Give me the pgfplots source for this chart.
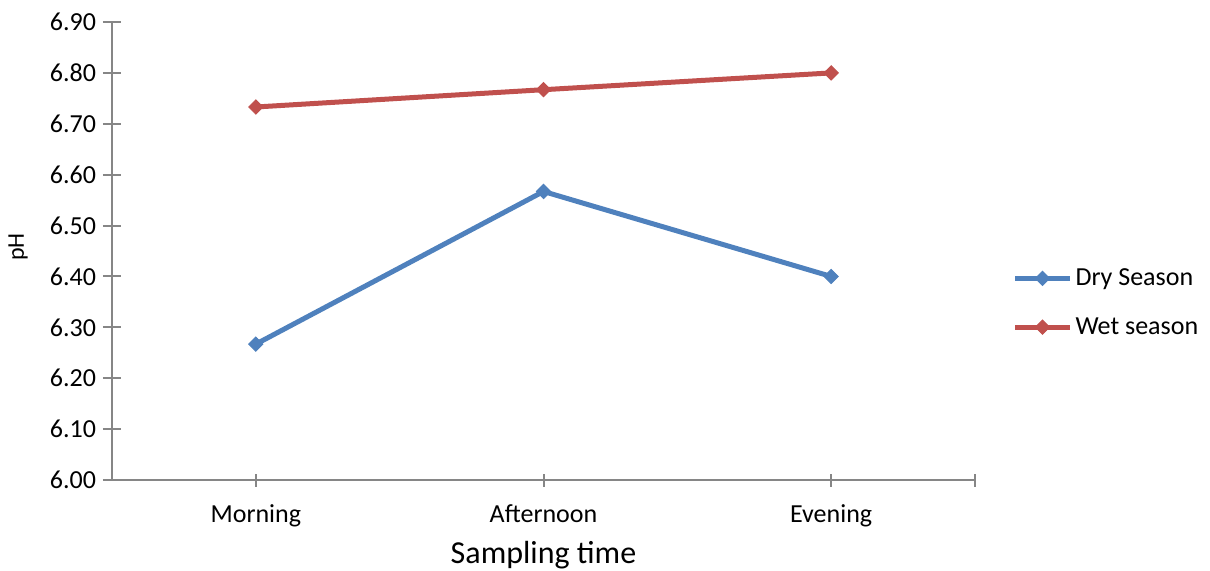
\documentclass[border=0pt]{standalone}
\usepackage{fontspec}
\setmainfont{Carlito}
\usepackage{pgfplots}
\pgfplotsset{compat=1.18}
\definecolor{dryblue}{HTML}{4F81BD}
\definecolor{wetred}{HTML}{C0504D}
\definecolor{axgray}{RGB}{134,134,134}
\begin{document}
\begin{tikzpicture}
\begin{axis}[
  name=ax,
  scale only axis,
  width=431.5bp, height=229bp,
  xmin=-0.5, xmax=2.5,
  ymin=6.0, ymax=6.9,
  axis lines*=left,
  axis line style={draw=axgray, line width=1bp},
  xtick={0,1,2,2.5},
  xticklabels={Morning,Afternoon,Evening,},
  ytick={6.0,6.1,6.2,6.3,6.4,6.5,6.6,6.7,6.8,6.9},
  yticklabel style={/pgf/number format/.cd, fixed, fixed zerofill, precision=2, assume math mode=true},
  tick align=center,
  tick style={draw=axgray, line width=1bp},
  major tick length=9bp,
  xtick style={/pgfplots/major tick length=6.5bp},
  ticklabel style={font=\fontsize{13bp}{15bp}\selectfont, text=black},
  xticklabel style={yshift=-4.5bp},
  xlabel={Sampling time},
  ylabel={pH},
  every axis x label/.style={at={(axis description cs:0.5,0)}, yshift=-37.5bp, anchor=center, font=\fontsize{16bp}{19bp}\selectfont},
  every axis y label/.style={at={(axis description cs:0,0.5)}, xshift=-47bp, yshift=2bp, rotate=90, anchor=center, font=\fontsize{12bp}{14bp}\selectfont},
  legend style={at={(axis description cs:1.043,0.387)}, anchor=west, draw=none, fill=none, inner sep=0pt, row sep=14.5bp, font=\fontsize{13bp}{15bp}\selectfont, nodes={inner xsep=1.5bp, inner ysep=0pt}},
  legend cell align=left,
  legend image code/.code={\draw[mark repeat=2, mark phase=2, #1] plot coordinates {(0bp,0bp) (13.75bp,0bp) (27.5bp,0bp)};},
  clip=false,
]
\addplot[dryblue, line width=2.5bp, mark=square*, mark size=2.5bp, mark options={rotate=45, solid, line width=0.5bp}]
  coordinates {(0,6.267) (1,6.567) (2,6.400)};
\addlegendentry{Dry Season}
\addplot[wetred, line width=2.5bp, mark=square*, mark size=2.5bp, mark options={rotate=45, solid, line width=0.5bp}]
  coordinates {(0,6.733) (1,6.767) (2,6.800)};
\addlegendentry{Wet season}
\end{axis}
\pgfresetboundingbox
\path (ax.south west) ++(-56bp,-45.5bp) rectangle ++(605bp,285.5bp);
\end{tikzpicture}
\end{document}
